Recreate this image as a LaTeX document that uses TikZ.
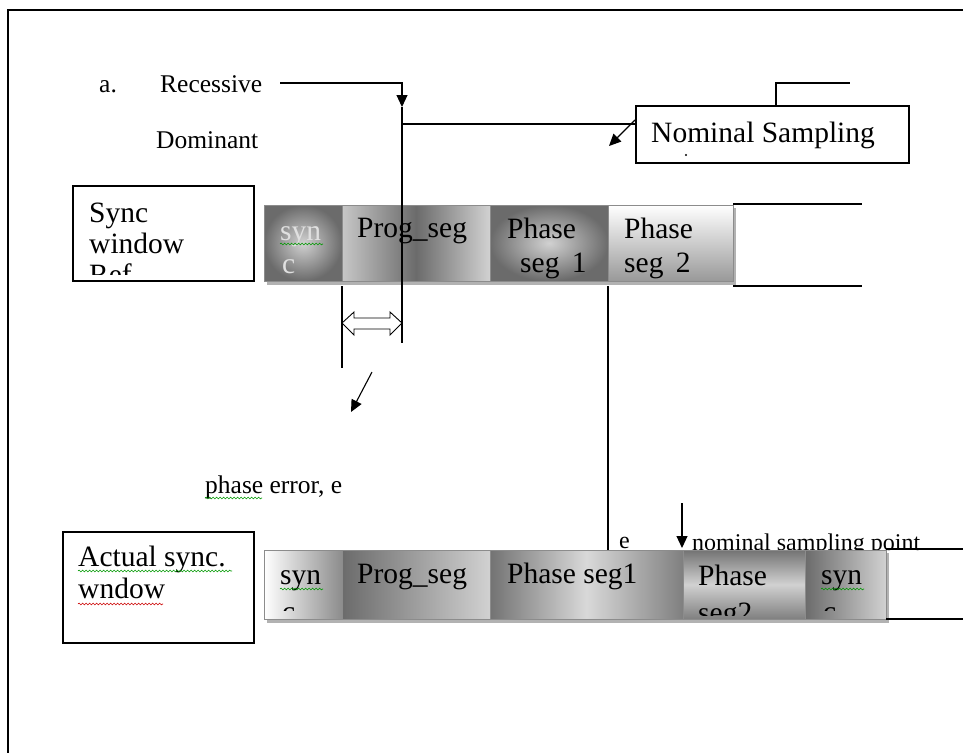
\documentclass[tikz,border=0pt]{standalone}
\usepackage{fontspec}
\setmainfont{Liberation Serif}
\usetikzlibrary{arrows.meta,decorations.pathmorphing}
\begin{document}
\begin{tikzpicture}[x=1pt,y=-1pt,
  line/.style={line width=1.1pt, black},
  tip/.style={-{Triangle[length=12pt,width=11pt]}},
  lbl/.style={inner sep=0pt, anchor=base west, font=\fontsize{25.5}{30}\selectfont},
  segtxt/.style={inner sep=0pt, anchor=base west, font=\fontsize{29.5}{31}\selectfont},
  tbox/.style={draw=black, line width=1.2pt, fill=white},
  segbox/.style={draw=black!45, line width=0.9pt},
  shadowbox/.style={fill=black!30, draw=none},
  squig/.style={decorate, decoration={snake, segment length=3.5pt, amplitude=0.9pt}, line width=0.6pt},
  topsync/.style={shading=radial, inner color=black!18, outer color=black!58},
  topprog/.style={shading=axis, shading angle=-30, left color=black!22, right color=black!18, middle color=black!58},
  topphA/.style={shading=radial, inner color=black!18, outer color=black!58},
  topphB/.style={shading=axis, top color=white, bottom color=black!40},
  botsyncA/.style={shading=axis, shading angle=-45, left color=white, right color=black!45},
  botprog/.style={shading=axis, shading angle=45, left color=black!58, right color=black!18},
  botphA/.style={shading=axis, shading angle=30, left color=black!55, right color=black!50, middle color=black!15},
  botphB/.style={shading=axis, top color=black!55, bottom color=black!50, middle color=black!18},
  botsyncB/.style={shading=axis, shading angle=-30, left color=black!58, right color=black!18},
]
\useasboundingbox (0,0) rectangle (963,753);
\fill[white] (0,0) rectangle (963,753);
% frame
\draw[line width=2pt] (963,10) -- (8,10) -- (8,753);

% labels at top
\node[lbl] (a) at (99,92) {a.};
\node[lbl] (rec) at (160,92) {Recessive};
\node[lbl] (dom) at (156,148) {Dominant};

% Nominal Sampling box
\node[tbox, minimum width=273pt, minimum height=57pt, inner sep=0pt] (nom) at (772.5,134.5) {};
\node[segtxt] (nomtxt) at (651,142) {Nominal Sampling};
\fill (686,155) circle (1.1pt);
\coordinate (nomtop) at (776,106);
\coordinate (nomc) at (776,83);
\coordinate (nomr) at (850,83);
\draw[line] (nomtop) -- (nomc) -- (nomr);
\coordinate (nomarrA) at (635,120);
\coordinate (nomarrB) at (609,146);
\draw[line, tip] (nomarrA) -- (nomarrB);

% Sync window Ref box
\node[tbox, minimum width=181pt, minimum height=95pt, inner sep=0pt] (refbox) at (163.5,233.5) {};
\begin{scope}
\clip (75,188) rectangle (252,274);
\node[segtxt] (refA) at (89,222) {Sync};
\node[segtxt] (refB) at (89,253) {window};
\node[segtxt] (refC) at (89,284) {Ref};
\end{scope}

% top bar
\fill[shadowbox] (267,208) rectangle (736,285);
\shade[topsync] (264,205) rectangle (342,281);
\shade[topprog] (342,205) rectangle (490,281);
\shade[topphA] (490,205) rectangle (608,281);
\shade[topphB] (608,205) rectangle (733,281);
\draw[segbox] (264,205) rectangle (342,281);
\draw[segbox] (342,205) rectangle (490,281);
\draw[segbox] (490,205) rectangle (608,281);
\draw[segbox] (608,205) rectangle (733,281);
\begin{scope}
\clip (264,205) rectangle (342,281);
\node[segtxt, text=black!12] (tsA) at (280,240) {syn};
\node[segtxt, text=black!12] (tsB) at (282,273) {c};
\end{scope}
\draw[squig, green!60!black] (280,244) -- (323,244);
\node[segtxt] (tprog) at (357,237) {Prog\_seg};
\node[segtxt] (tp1a) at (507,238) {Phase};
\node[segtxt] (tp1b) at (520,272) {seg\,\ 1};
\node[segtxt] (tp2a) at (624,238) {Phase};
\node[segtxt] (tp2b) at (624,272) {seg\,\ 2};
\draw[line] (733,204) -- (862,204);
\draw[line] (733,286) -- (862,286);

% Recessive connector and vertical line
\coordinate (recEnd) at (280,83);
\coordinate (recCorner) at (402,83);
\coordinate (recTip) at (402,107);
\draw[line, tip] (recEnd) -- (recCorner) -- (recTip);
\coordinate (vTop) at (402,107);
\coordinate (vBot) at (402,343);
\draw[line] (vTop) -- (vBot);
\coordinate (hL) at (402,124);
\draw[line] (hL) -- (nom.west |- hL);

% phase error markers
\coordinate (lTop) at (342,286);
\coordinate (lBot) at (342,368);
\draw[line] (lTop) -- (lBot);
\draw[line width=0.9pt, fill=white] (342,323) -- (354,312) -- (354,318) -- (390,318) -- (390,312) -- (402,323) -- (390,335) -- (390,329) -- (354,329) -- (354,335) -- cycle;
\coordinate (peA) at (372,372);
\coordinate (peB) at (351,412);
\draw[line, tip] (peA) -- (peB);
\node[lbl] (pe) at (205,493) {phase error, e};
\draw[squig, green!60!black] (205,498) -- (262,498);

% long vertical line
\coordinate (mTop) at (608,286);
\coordinate (mBot) at (608,550);
\draw[line] (mTop) -- (mBot);

% bottom labels above bar
\node[lbl, font=\fontsize{24}{28}\selectfont] (e) at (619,548) {e};
\node[lbl, font=\fontsize{24}{28}\selectfont] (nsp) at (692,550) {nominal sampling point};
\coordinate (nspA) at (682,503);
\coordinate (nspB) at (682,548);
\draw[line, tip] (nspA) -- (nspB);

% Actual sync window box
\node[tbox, minimum width=191pt, minimum height=111pt, inner sep=0pt] (actbox) at (158.5,587.5) {};
\node[segtxt] (actA) at (78,566) {Actual sync.};
\node[segtxt] (actB) at (78,598) {wndow};
\draw[squig, green!60!black] (78,571) -- (232,571);
\draw[squig, red!80!black] (78,604) -- (163,604);

% bottom bar
\fill[shadowbox] (267,553) rectangle (889,623);
\shade[botsyncA] (264,550) rectangle (342,619);
\shade[botprog] (342,550) rectangle (490,619);
\shade[botphA] (490,550) rectangle (683,619);
\shade[botphB] (683,550) rectangle (805,619);
\shade[botsyncB] (805,550) rectangle (886,619);
\draw[segbox] (264,550) rectangle (342,619);
\draw[segbox] (342,550) rectangle (490,619);
\draw[segbox] (490,550) rectangle (683,619);
\draw[segbox] (683,550) rectangle (805,619);
\draw[segbox] (805,550) rectangle (886,619);
\begin{scope}
\clip (264,550) rectangle (342,610);
\node[segtxt] (bsA) at (280,584) {syn};
\node[segtxt] (bsB) at (282,621) {c};
\end{scope}
\draw[squig, green!60!black] (280,589) -- (323,589);
\node[segtxt] (bprog) at (357,583) {Prog\_seg};
\node[segtxt] (bp1) at (507,583) {Phase seg1};
\begin{scope}
\clip (683,550) rectangle (805,615);
\node[segtxt] (bp2a) at (698,585) {Phase};
\node[segtxt] (bp2b) at (698,622) {seg2};
\end{scope}
\begin{scope}
\clip (805,550) rectangle (886,610);
\node[segtxt] (bs2A) at (821,584) {syn};
\node[segtxt] (bs2B) at (823,621) {c};
\end{scope}
\draw[squig, green!60!black] (821,589) -- (864,589);
\draw[line] (886,549) -- (963,549);
\draw[line] (886,619) -- (963,619);
\end{tikzpicture}
\end{document}
